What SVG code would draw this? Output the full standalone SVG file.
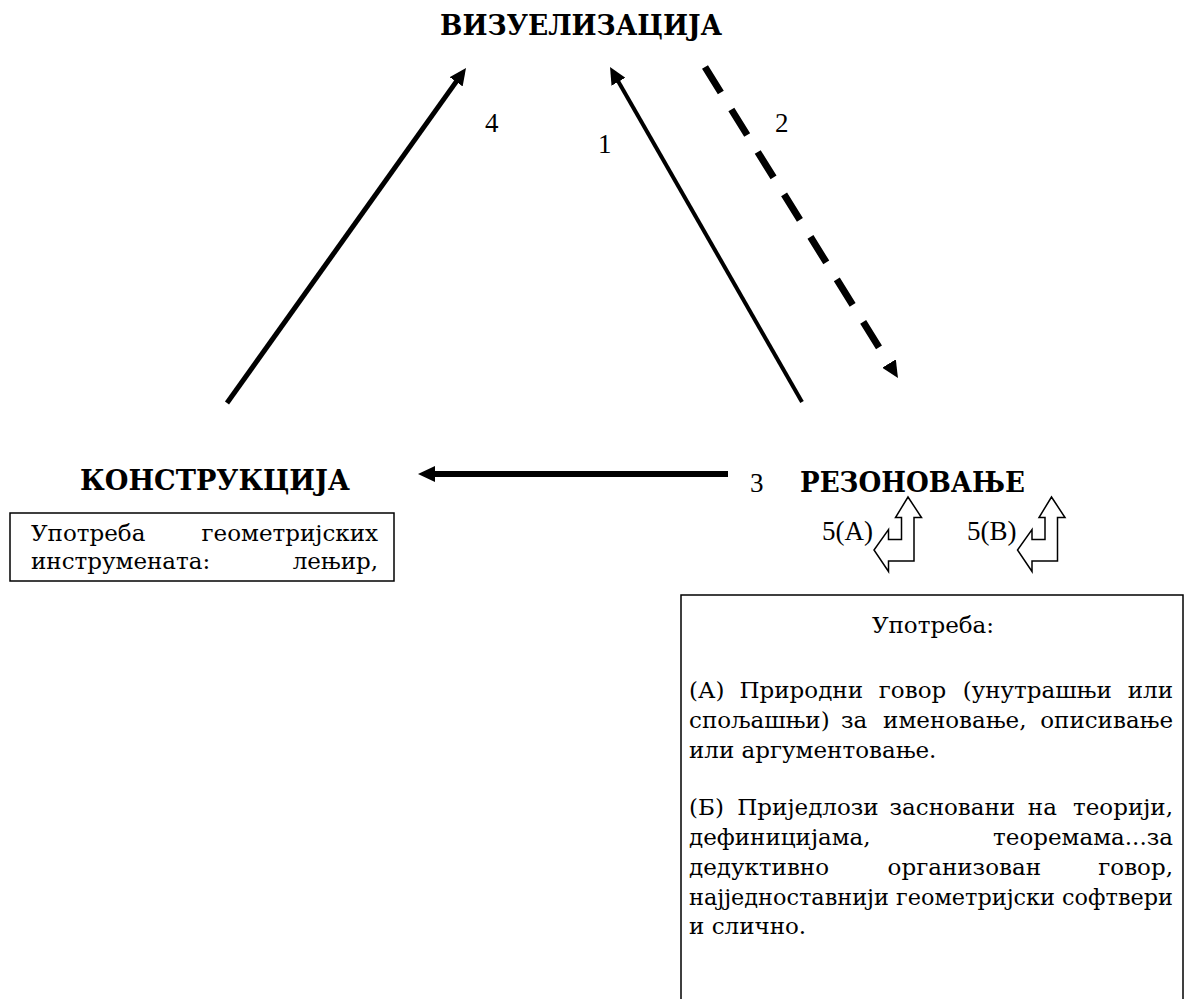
<svg xmlns="http://www.w3.org/2000/svg" width="1186" height="999" viewBox="0 0 1186 999">
<style>
  .title { font-family: "DejaVu Serif", serif; font-weight: bold; font-size: 28px; fill: #000; }
  .body { font-family: "DejaVu Serif", serif; font-size: 23px; fill: #000; }
  .num { font-family: "Liberation Serif", "DejaVu Serif", serif; font-size: 27px; fill: #000; }
  .box { fill: #fff; stroke: #000; stroke-width: 1.5; }
  .conn { fill: none; stroke: #000; marker-end: url(#ah); }
  .bent { fill: #fff; stroke: #000; stroke-width: 1.5; stroke-linejoin: miter; }
</style>
<defs>
  <marker id="ah" markerUnits="userSpaceOnUse" markerWidth="18" markerHeight="16" refX="7" refY="8" orient="auto">
    <path d="M0,0 L17,8 L0,16 z" fill="#000"/>
  </marker>
  <path id="bentArrow" d="M908,497 L921.5,517.5 L914,517.5 L914,561 L888.5,561 L888.5,571.5 L874,550 L888.5,529.5 L888.5,539.5 L901.5,539.5 L901.5,517.5 L895.5,517.5 Z"/>
</defs>
<rect width="1186" height="999" fill="#fff"/>

<g id="connectors">
  <line class="conn" x1="227" y1="403" x2="460.2" y2="76.1" stroke-width="5"/>
  <line class="conn" x1="802" y1="402" x2="615" y2="75.7" stroke-width="4"/>
  <line class="conn" x1="705" y1="67" x2="892.7" y2="369.5" stroke-width="7" stroke-dasharray="30 20"/>
  <line class="conn" x1="728" y1="474" x2="428" y2="474" stroke-width="6"/>
  <text class="num" x="485" y="132">4</text>
  <text class="num" x="598" y="153">1</text>
  <text class="num" x="775" y="132">2</text>
  <text class="num" x="750" y="492">3</text>
</g>

<g id="node-vizuelizacija">
  <text class="title" x="440" y="35" textLength="282" lengthAdjust="spacingAndGlyphs">ВИЗУЕЛИЗАЦИЈА</text>
</g>

<g id="node-konstrukcija">
  <text class="title" x="80" y="490" textLength="270" lengthAdjust="spacingAndGlyphs">КОНСТРУКЦИЈА</text>
  <rect class="box" x="10" y="513" width="384" height="68"/>
  <text class="body" y="541"><tspan x="31">Употреба</tspan><tspan x="378" text-anchor="end">геометријских</tspan></text>
  <text class="body" y="569"><tspan x="31">инструмената:</tspan><tspan x="378" text-anchor="end">лењир,</tspan></text>
</g>

<g id="node-rezonovanje">
  <text class="title" x="800" y="492" textLength="225" lengthAdjust="spacingAndGlyphs">РЕЗОНОВАЊЕ</text>
  <text class="num" x="822" y="540">5(А)</text>
  <text class="num" x="967" y="540">5(B)</text>
  <use href="#bentArrow" class="bent"/>
  <use href="#bentArrow" class="bent" transform="translate(143.5,0)"/>
</g>

<g id="node-upotreba">
  <rect class="box" x="681" y="595" width="502" height="420"/>
  <text class="body" x="933" y="633" text-anchor="middle">Употреба:</text>
  <text class="body" y="698"><tspan x="689">(А)</tspan><tspan x="739.5">Природни</tspan><tspan x="878.8">говор</tspan><tspan x="962.7">(унутрашњи</tspan><tspan x="1173" text-anchor="end">или</tspan></text>
  <text class="body" y="728"><tspan x="689">спољашњи)</tspan><tspan x="840.9">за</tspan><tspan x="883.1">именовање,</tspan><tspan x="1173" text-anchor="end">описивање</tspan></text>
  <text class="body" x="689" y="758">или аргументовање.</text>
  <text class="body" y="815"><tspan x="689">(Б)</tspan><tspan x="737.3">Приједлози</tspan><tspan x="889.5">засновани</tspan><tspan x="1027.8">на</tspan><tspan x="1173" text-anchor="end">теорији,</tspan></text>
  <text class="body" y="845"><tspan x="689">дефиницијама,</tspan><tspan x="1173" text-anchor="end">теоремама...за</tspan></text>
  <text class="body" y="875"><tspan x="689">дедуктивно</tspan><tspan x="887.6">организован</tspan><tspan x="1173" text-anchor="end">говор,</tspan></text>
  <text class="body" x="689" y="905" textLength="484" lengthAdjust="spacingAndGlyphs">најједноставнији геометријски софтвери</text>
  <text class="body" x="689" y="934">и слично.</text>
</g>
</svg>
